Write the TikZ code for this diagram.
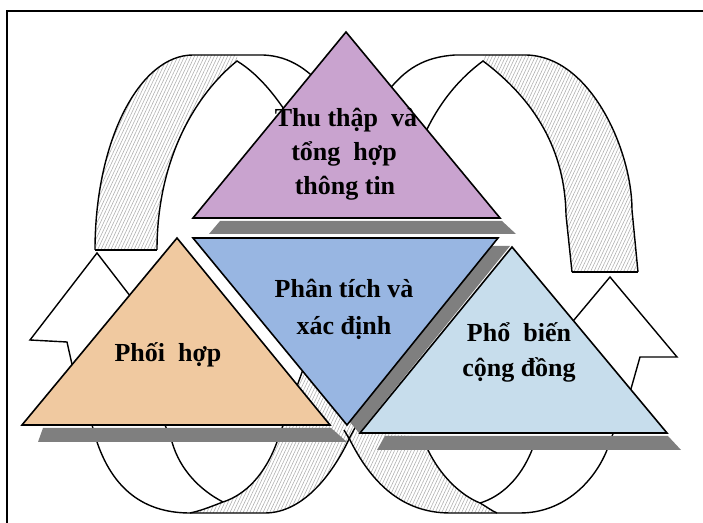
\documentclass[tikz,border=0pt]{standalone}
\usepackage{fontspec}
\setmainfont{Liberation Serif}
\usetikzlibrary{patterns.meta}
\definecolor{trililac}{HTML}{C9A3CF}
\definecolor{triblue}{HTML}{98B6E2}
\definecolor{triorange}{HTML}{F0C9A0}
\definecolor{trisky}{HTML}{C7DDEC}
\definecolor{shadowgray}{HTML}{7F7F7F}
\definecolor{hatchgray}{HTML}{B0B0B0}
\tikzset{
  triface/.style={draw=black,line width=0.8pt,line join=miter},
  shadowbar/.style={fill=shadowgray,draw=none},
  bandedge/.style={draw=black,line width=0.7pt},
  bandback/.style={pattern={Lines[angle=65,distance=1.5pt,line width=0.3pt]},pattern color=hatchgray},
  arrowhead/.style={fill=white,draw=black,line width=0.7pt},
  lbl/.style={font=\fontsize{13}{16}\selectfont\bfseries,anchor=base,inner sep=0pt},
}

\begin{document}
\begin{tikzpicture}[x=0.5pt,y=-0.5pt]
  \useasboundingbox (0,0) rectangle (703,523);
  \draw[line width=1pt] (7,523) -- (7,11) -- (703,11);

  % upper bands
  \fill[bandback] (95,250) .. controls (95,142) and (139,55) .. (193,55) -- (237,55) -- (237,61) .. controls (195,95) and (157,160) .. (157,250) -- cycle;
  \draw[bandedge] (95,250) .. controls (95,142) and (139,55) .. (193,55) -- (263,55) .. controls (290,56) and (310,70) .. (330,95);
  \draw[bandedge] (157,250) .. controls (157,160) and (195,95) .. (237,61) .. controls (260,75) and (280,100) .. (300,135);
  \draw[bandedge] (95,250) -- (157,250);
  \fill[bandback] (483,55) -- (525,55) .. controls (590,55) and (632,150) .. (632,210) -- (638,272) -- (572,272) -- (566,215) .. controls (565,150) and (535,100) .. (483,61) -- cycle;
  \draw[bandedge] (385,95) .. controls (405,68) and (425,57) .. (455,55) -- (525,55) .. controls (590,55) and (632,150) .. (632,210) -- (638,272);
  \draw[bandedge] (418,150) .. controls (435,105) and (460,78) .. (483,61) .. controls (535,100) and (565,150) .. (566,215) -- (572,272);
  \draw[bandedge] (572,272) -- (638,272);

  % lower loops
  \fill[bandback] (310,350) -- (277,442) .. controls (265,475) and (245,495) .. (223,502) .. controls (210,507) and (200,511) .. (190,513) -- (265,513) .. controls (305,513) and (335,470) .. (350,437) -- (372,395) -- cycle;
  \fill[bandback] (344,430) -- (350,440) .. controls (370,480) and (400,513) .. (450,513) -- (497,513) .. controls (492,511) and (487,507) .. (480,503) .. controls (460,495) and (440,475) .. (428,450) -- (423,437) -- cycle;
  \draw[bandedge] (92,425) -- (97,442) .. controls (115,495) and (150,513) .. (190,513) -- (265,513) .. controls (305,513) and (335,470) .. (350,437) -- (362,415);
  \draw[bandedge] (165,425) -- (172,442) .. controls (180,470) and (200,490) .. (223,502);
  \draw[bandedge] (310,350) -- (277,442) .. controls (265,475) and (245,495) .. (223,502) .. controls (210,507) and (200,511) .. (190,513);
  \draw[bandedge] (344,430) -- (350,440) .. controls (370,480) and (400,513) .. (450,513) -- (520,513) .. controls (565,513) and (595,480) .. (607,450) -- (618,420);
  \draw[bandedge] (423,437) -- (428,450) .. controls (440,475) and (460,495) .. (480,503) .. controls (487,507) and (492,511) .. (497,513);
  \draw[bandedge] (536,437) -- (532,450) .. controls (520,480) and (500,497) .. (480,503);

  % up arrows
  \draw[arrowhead] (97,253) -- (30,340) -- (67,342) -- (80,400) -- (150,400) -- (127,342) -- (164,340) -- cycle;
  \draw[arrowhead] (610,277) -- (677,357) -- (640,357) -- (625,410) -- (560,410) -- (580,357) -- (543,357) -- cycle;

  % triangles
  \fill[shadowbar] (220,221) -- (502,221) -- (516,234) -- (209,234) -- cycle;
  \draw[triface,fill=trililac] (346,32) -- (500,218) -- (193,218) -- cycle;
  \fill[shadowbar] (205,246) -- (510,246) -- (359,433) -- cycle;
  \draw[triface,fill=triblue] (193,238) -- (498,238) -- (347,425) -- cycle;
  \fill[shadowbar] (43,428) -- (331,428) -- (347,442) -- (38,442) -- cycle;
  \draw[triface,fill=triorange] (177,238) -- (330,425) -- (22,425) -- cycle;
  \fill[shadowbar] (385,436) -- (668,436) -- (681,450) -- (377,450) -- cycle;
  \draw[triface,fill=trisky] (512,247) -- (667,433) -- (360,433) -- cycle;

  \node[lbl] (thu1) at (346,127) {Thu thập\ \ và};
  \node[lbl] (thu2) at (344,161) {tổng\ \ hợp};
  \node[lbl] (thu3) at (345,195) {thông tin};
  \node[lbl] (phan1) at (344,298) {Phân tích và};
  \node[lbl] (phan2) at (344,335) {xác định};
  \node[lbl] (phoi) at (168,362) {Phối\ \ hợp};
  \node[lbl] (pho1) at (519,342) {Phổ\ \ biến};
  \node[lbl] (pho2) at (519,377) {cộng đồng};
\end{tikzpicture}
\end{document}
